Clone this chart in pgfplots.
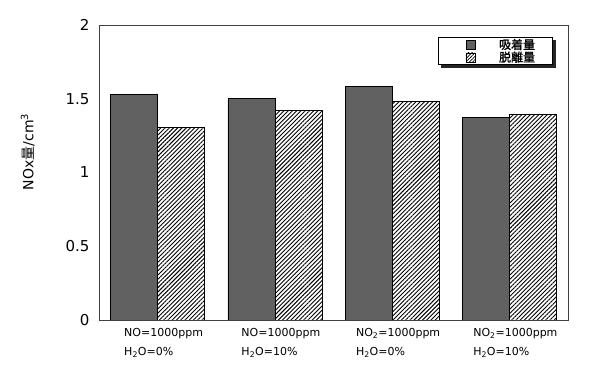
\documentclass[border=0pt]{standalone}
\usepackage{fontspec}
\setmainfont{DejaVu Sans}
\newfontfamily\jp{Noto Sans CJK JP}
\newfontfamily\jpb[FakeBold=1.2]{Noto Sans CJK JP}
\usepackage{pgfplots}
\pgfplotsset{compat=1.18}
\usetikzlibrary{patterns,patterns.meta,backgrounds}
\pgfplotsset{
  imgA/.style={legend image code/.code={\path (0pt,0pt) (42.5pt,0pt); \draw[draw=black, line width=0.5pt, fill=black!62] (10pt,-4.5pt) rectangle (19pt,4.5pt);}},
  imgB/.style={legend image code/.code={\path (0pt,0pt) (42.5pt,0pt); \draw[draw=black, line width=0.5pt, pattern={Lines[angle=45,distance=2.4pt,line width=0.7pt]}] (10pt,-4.5pt) rectangle (19pt,4.5pt);}},
}
\begin{document}
\begin{tikzpicture}
\begin{axis}[
  scale only axis, width=469pt, height=295pt,
  ybar=0pt, bar width=47pt,
  xmin=-0.5, xmax=3.5, ymin=0, ymax=2,
  xtick={0,1,2,3},
  xticklabels={{NO=1000ppm\\H\textsubscript{2}O=0\%},{NO=1000ppm\\H\textsubscript{2}O=10\%},{NO\textsubscript{2}=1000ppm\\H\textsubscript{2}O=0\%},{NO\textsubscript{2}=1000ppm\\H\textsubscript{2}O=10\%}},
  xticklabel style={align=left, font=\fontsize{11}{19}\selectfont, xshift=6pt, yshift=-5pt},
  ytick={0,0.5,1,1.5,2},
  yticklabel style={font=\fontsize{15}{17}\selectfont, xshift=-6pt},
  /pgf/number format/assume math mode=true,
  major tick length=0pt,
  axis line style={black!75, line width=0.7pt},
  ylabel={NOx{\jp 量}/cm\textsuperscript{3}},
  ylabel style={at={(axis description cs:-0.152,0.57)}, anchor=center, font=\fontsize{14}{16}\selectfont},
  legend style={name=leg, draw=black, line width=0.8pt, fill=white, at={(0.968,0.959)}, anchor=north east,
    inner xsep=17pt, inner ysep=1pt, font=\fontsize{12}{12}\selectfont\jpb,
    nodes={inner sep=0.5pt}},
]
\addplot[draw=black, fill=black!62, line width=0.5pt, imgA]
  coordinates {(0,1.53) (1,1.50) (2,1.584) (3,1.372)};
\addplot[draw=black, pattern={Lines[angle=45,distance=3pt,line width=0.9pt]}, line width=0.5pt, imgB]
  coordinates {(0,1.306) (1,1.42) (2,1.48) (3,1.392)};
\legend{吸着量,脱離量}
\end{axis}
\begin{scope}[on background layer]
\fill[black!85] ([shift={(3pt,-3pt)}]leg.south west) rectangle ([shift={(3pt,-3pt)}]leg.north east);
\end{scope}
\path (current axis.south west) ++(-99pt,-62pt) rectangle ++(600pt,382pt);
\end{tikzpicture}
\end{document}
